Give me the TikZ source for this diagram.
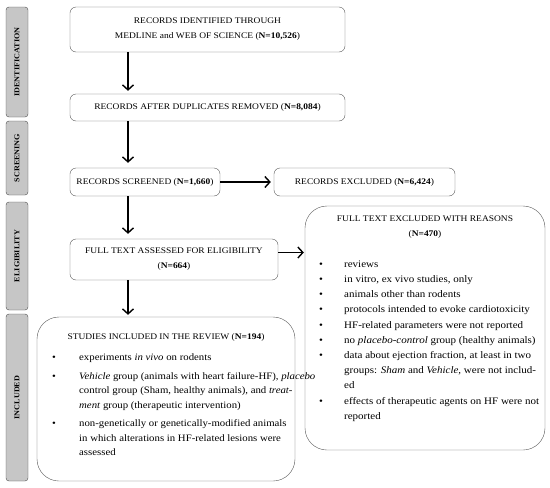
\documentclass[tikz,border=0pt]{standalone}
\usepackage{fontspec}
\setmainfont{Liberation Serif}[FakeStretch=1.1]
\usetikzlibrary{arrows.meta}

\begin{document}
\begin{tikzpicture}[x=1pt,y=-1pt,
  every node/.style={font=\fontsize{8.6}{15}\selectfont},
  phase/.style={draw=gray!60!black, fill=gray!45, rounded corners=3pt,
    minimum height=22pt, rotate=90, inner sep=0pt,
    font=\bfseries\fontsize{7.4}{9}\selectfont},
  stepbox/.style={draw=gray!70!black, rounded corners=6pt, align=center, inner sep=0pt},
  bigbox/.style={draw=gray!70!black, rounded corners=22pt, inner sep=0pt},
  listtext/.style={anchor=north west, inner sep=0pt},
  arr/.style={-{Straight Barb[length=5pt,width=11pt]}, line width=1.4pt, shorten >=4pt}
  ]
  \useasboundingbox (0,0) rectangle (550,488);

  % phases on the left
  \node[phase, minimum width=110pt] (ident)  at (17,62)    {IDENTIFICATION};
  \node[phase, minimum width=74pt]  (screen) at (17,158)   {SCREENING};
  \node[phase, minimum width=108pt] (elig)   at (17,256)   {ELIGIBILITY};
  \node[phase, minimum width=167pt] (incl)   at (17,397.5) {INCLUDED};

  % flow boxes
  \node[stepbox, minimum width=275pt, minimum height=45pt] (found) at (207.5,29.5)
    {RECORDS IDENTIFIED THROUGH\\ MEDLINE and WEB OF SCIENCE (\textbf{N=10,526})};
  \node[stepbox, minimum width=275pt, minimum height=27pt] (nodup) at (207.5,107.5)
    {RECORDS AFTER DUPLICATES REMOVED (\textbf{N=8,084})};
  \node[stepbox, minimum width=150pt, minimum height=28pt] (screened) at (145,182)
    {RECORDS SCREENED (\textbf{N=1,660})};
  \node[stepbox, minimum width=181pt, minimum height=28pt] (dropped) at (364.5,182)
    {RECORDS EXCLUDED (\textbf{N=6,424})};
  \node[stepbox, minimum width=208pt, minimum height=41pt] (full) at (174,259.5)
    {FULL TEXT ASSESSED FOR ELIGIBILITY\\ (\textbf{N=664})};
  \node[bigbox, minimum width=240pt, minimum height=244pt] (reasons) at (425,328) {};
  \node[bigbox, minimum width=258pt, minimum height=164pt] (studies) at (166,399) {};

  % excluded full texts
  \node[align=center] (reasonstitle) at (425,227)
    {FULL TEXT EXCLUDED WITH REASONS\\ (\textbf{N=470})};
  \node[listtext] (reasonslist) at (319,256.5) {\fontsize{10}{15.2}\selectfont
    \begin{tabular}{@{}p{25pt}@{}l@{}}
      \textbullet & reviews\\
      \textbullet & in vitro, ex vivo studies, only\\
      \textbullet & animals other than rodents\\
      \textbullet & protocols intended to evoke cardiotoxicity\\
      \textbullet & HF-related parameters were not reported\\
      \textbullet & no \textit{placebo-control} group (healthy animals)\\
      \textbullet & data about ejection fraction, at least in two\\
                  & groups: \textit{Sham} and \textit{Vehicle}, were not includ-\\
                  & ed\\
      \textbullet & effects of therapeutic agents on HF were not\\
                  & reported
    \end{tabular}};

  % included studies
  \node (studiestitle) at (166,337) {STUDIES INCLUDED IN THE REVIEW (\textbf{N=194})};
  \node[listtext] (studieslist) at (52,350.5) {\fontsize{9.8}{14.5}\selectfont
    \begin{tabular}{@{}p{27pt}@{}l@{}}
      \textbullet & experiments \textit{in vivo} on rodents\\[4pt]
      \textbullet & \textit{Vehicle} group (animals with heart failure-HF), \textit{placebo}\\
                  & control group (Sham, healthy animals), and \textit{treat-}\\
                  & \textit{ment} group (therapeutic intervention)\\[4pt]
      \textbullet & non-genetically or genetically-modified animals\\
                  & in which alterations in HF-related lesions were\\
                  & assessed
    \end{tabular}};

  % arrows
  \coordinate (spine) at (128,0);
  \draw[arr, shorten >=3pt] (spine |- found.south) -- (spine |- nodup.north);
  \draw[arr, shorten >=5pt] (spine |- nodup.south) -- (spine |- screened.north);
  \draw[arr, shorten >=5pt] (spine |- screened.south) -- (spine |- full.north);
  \draw[arr, shorten >=2pt] (spine |- full.south) -- (spine |- studies.north);
  \draw[arr, shorten >=3pt] (screened.east) -- (dropped.west);
  \draw[arr, shorten >=1pt] ([yshift=7pt]full.east) -- ([yshift=7pt]full.east -| reasons.west);
\end{tikzpicture}
\end{document}
